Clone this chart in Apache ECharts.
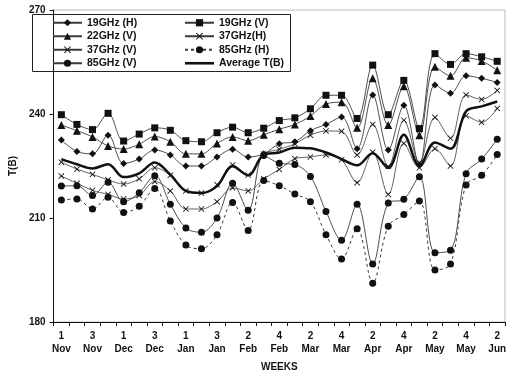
<!DOCTYPE html>
<html>
<head>
<meta charset="utf-8">
<script src="https://cdn.jsdelivr.net/npm/echarts@6/dist/echarts.min.js"></script>
<style>
  html, body { margin: 0; padding: 0; background: #fff; }
  #chart { width: 514px; height: 377px; }
</style>
</head>
<body>
<div id="chart"></div>
<script>
// Weekly brightness temperatures, Nov - Jun

const weeks = [
  '1 Nov', '2 Nov', '3 Nov', '4 Nov', '1 Dec', '2 Dec', '3 Dec', '4 Dec',
  '1 Jan', '2 Jan', '3 Jan', '1 Feb', '2 Feb', '3 Feb', '4 Feb', '1 Mar',
  '2 Mar', '3 Mar', '4 Mar', '1 Apr', '2 Apr', '3 Apr', '4 Apr', '1 May',
  '2 May', '3 May', '4 May', '1 Jun', '2 Jun',
];

const yTicks = [180, 210, 240, 270];

const tb19H = [232.5, 229.2, 228.5, 233.9, 225.7, 227.0, 229.6, 228.2, 225.0, 225.0, 227.6, 229.8, 227.6, 228.5, 231.4,
  232.0, 235.2, 237.0, 239.1, 230.0, 245.5, 229.6, 242.5, 225.3, 248.4, 246.0, 251.0, 250.3, 249.1];
const tb19V = [239.8, 237.0, 235.5, 240.2, 232.2, 234.2, 236.0, 235.3, 232.3, 232.0, 234.6, 236.2, 234.6, 235.9, 238.1,
  238.9, 241.5, 245.4, 245.4, 238.7, 254.1, 239.8, 249.7, 235.8, 257.4, 254.3, 257.4, 256.5, 255.2];
const tb22V = [236.8, 235.2, 233.4, 230.8, 229.9, 231.3, 233.5, 232.0, 228.5, 228.5, 231.5, 233.4, 232.3, 234.0, 235.6,
  237.0, 239.4, 242.9, 243.4, 236.0, 250.3, 236.8, 248.0, 233.9, 253.6, 251.0, 256.2, 255.3, 252.6];
const tb37H = [222.1, 220.0, 218.0, 216.8, 215.5, 216.5, 220.5, 217.8, 212.6, 212.6, 214.7, 218.7, 217.8, 221.3, 224.0,
  227.1, 227.6, 228.2, 226.8, 220.2, 229.0, 216.8, 231.5, 224.5, 230.0, 225.0, 239.5, 237.6, 241.6];
const tb37V = [226.1, 224.1, 222.6, 221.0, 219.8, 221.3, 224.5, 222.3, 217.8, 217.2, 219.6, 225.3, 222.4, 228.4, 229.8,
  231.4, 233.9, 235.1, 235.0, 228.2, 237.0, 224.9, 238.2, 226.0, 239.0, 233.0, 245.5, 244.2, 246.8];
const tb85H = [215.2, 215.5, 212.6, 216.0, 211.6, 213.4, 218.5, 209.1, 202.2, 201.1, 205.2, 214.5, 206.4, 220.8, 219.3,
  216.9, 214.7, 205.2, 198.2, 206.9, 191.2, 207.6, 211.0, 214.9, 195.0, 196.7, 219.5, 222.3, 228.3];
const tb85V = [219.2, 219.3, 216.5, 220.3, 214.7, 217.3, 222.2, 214.0, 207.1, 205.9, 210.0, 220.0, 212.2, 228.0, 225.8,
  225.4, 222.0, 211.9, 203.6, 214.0, 196.7, 214.3, 215.4, 221.9, 200.0, 200.7, 222.8, 227.0, 232.7];
const tbAvg = [227.0, 225.5, 224.3, 225.5, 221.8, 222.9, 226.0, 222.5, 217.8, 217.2, 219.2, 224.9, 222.3, 228.3, 228.9,
  230.3, 230.1, 228.9, 227.0, 225.2, 228.7, 224.4, 234.0, 225.0, 231.8, 230.0, 240.8, 242.2, 243.6];

const INK = '#111';
const LINE = '#3a3a3a';
const FONT = 'Arial, "Liberation Sans", sans-serif';
const CROSS = 'path://M0,1L1,0L5,4L9,0L10,1L6,5L10,9L9,10L5,6L1,10L0,9L4,5Z';
const THICK = 'path://M0,0L29,0L29,2.6L0,2.6Z';

function lineSeries(name, data, symbol, size, extra) {
  return Object.assign({
    name, type: 'line', data,
    symbol, symbolSize: size,
    smooth: 0.35,
    color: INK,
    lineStyle: { color: LINE, width: 0.9 },
    itemStyle: { color: INK },
    animation: false,
  }, extra || {});
}

const legendText = { fontFamily: FONT, fontWeight: 'bold', fontSize: 10.5, color: INK, lineHeight: 12.5 };

const chart = echarts.init(document.getElementById('chart'), null, { renderer: 'canvas' });

chart.setOption({
  backgroundColor: '#fff',
  textStyle: { fontFamily: FONT },
  grid: {
    left: 32, right: 9, top: 10, bottom: 51,
    show: true, borderColor: '#bbb', borderWidth: 1, backgroundColor: 'transparent',
  },
  legend: [
    {
      left: 52, top: 16.5, orient: 'vertical', padding: 0, itemGap: 1,
      itemWidth: 29, itemHeight: 9, symbolKeepAspect: true,
      textStyle: legendText,
      data: ['19GHz (H)', '22GHz (V)', '37GHz (V)', '85GHz (V)'],
    },
    {
      left: 184, top: 16.5, orient: 'vertical', padding: 0, itemGap: 1,
      itemWidth: 29, itemHeight: 9, symbolKeepAspect: true,
      textStyle: legendText,
      data: ['19GHz (V)', '37GHz(H)', '85GHz (H)', { name: 'Average T(B)', icon: THICK }],
    },
  ],
  graphic: [{
    type: 'rect', left: 32, top: 14, z: 10, silent: true,
    shape: { width: 258, height: 57 },
    style: { fill: 'transparent', stroke: '#222', lineWidth: 1 },
  }],
  xAxis: {
    type: 'category', data: weeks, boundaryGap: true,
    name: 'WEEKS', nameLocation: 'middle', nameGap: 40,
    nameTextStyle: { fontFamily: FONT, fontWeight: 'bold', fontSize: 10, color: INK },
    axisLine: { lineStyle: { color: INK, width: 1 } },
    axisTick: { show: true, interval: 0, length: 4, lineStyle: { color: INK } },
    axisLabel: {
      interval: 1, margin: 8, color: INK, fontFamily: FONT, fontWeight: 'bold', fontSize: 10, lineHeight: 13,
      formatter: v => v.replace(' ', '\n'),
    },
    splitLine: { show: false },
  },
  yAxis: {
    type: 'value', min: yTicks[0], max: yTicks[yTicks.length - 1], interval: yTicks[1] - yTicks[0],
    name: 'T(B)', nameLocation: 'middle', nameGap: 24, nameRotate: 90,
    nameTextStyle: { fontFamily: FONT, fontWeight: 'bold', fontSize: 10, color: INK },
    axisLine: { show: true, lineStyle: { color: INK, width: 1 } },
    axisTick: { show: true, length: 4, lineStyle: { color: INK } },
    axisLabel: { margin: 8, color: INK, fontFamily: FONT, fontWeight: 'bold', fontSize: 10 },
    splitLine: { show: false },
  },
  series: [
    lineSeries('19GHz (H)', tb19H, 'diamond', 7),
    lineSeries('19GHz (V)', tb19V, 'rect', 7),
    lineSeries('22GHz (V)', tb22V, 'triangle', 8),
    lineSeries('37GHz(H)', tb37H, CROSS, 6, { lineStyle: { color: LINE, width: 0.8 } }),
    lineSeries('37GHz (V)', tb37V, CROSS, 6, { lineStyle: { color: LINE, width: 0.8 } }),
    lineSeries('85GHz (H)', tb85H, 'circle', 7, { lineStyle: { color: LINE, width: 1, type: [3, 3] } }),
    lineSeries('85GHz (V)', tb85V, 'circle', 7),
    lineSeries('Average T(B)', tbAvg, 'none', 0, { lineStyle: { color: INK, width: 2.5 } }),
  ],
});
</script>
</body>
</html>
